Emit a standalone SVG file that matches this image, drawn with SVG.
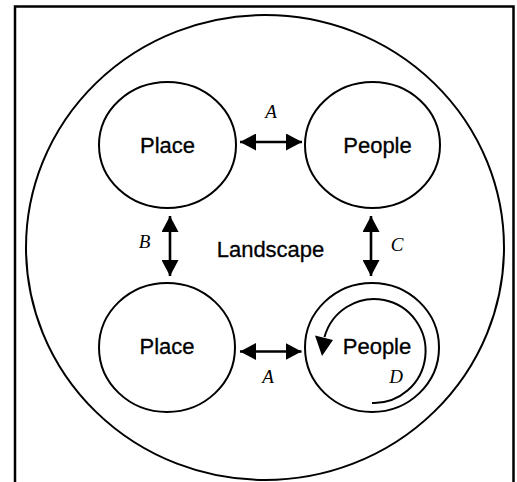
<svg xmlns="http://www.w3.org/2000/svg" width="517" height="482" viewBox="0 0 517 482">
<style>
.c{fill:none;stroke:#000;stroke-width:2}
.t{font-family:"Liberation Sans",Arial,sans-serif;font-size:22px;text-anchor:middle;fill:#000;stroke:#000;stroke-width:0.3}
.l{font-family:"Liberation Serif","Times New Roman",serif;font-style:italic;font-size:19px;text-anchor:middle;fill:#000}
.a{stroke:#000;stroke-width:2.6;fill:none;marker-start:url(#h);marker-end:url(#h)}
</style>
<defs>
<marker id="h" viewBox="0 0 16 17" refX="16" refY="8.5" markerWidth="16" markerHeight="17" markerUnits="userSpaceOnUse" orient="auto-start-reverse">
<path d="M0 0 L16 8.5 L0 17 Z" fill="#000"/>
</marker>
</defs>
<rect width="517" height="482" fill="#fff"/>
<path d="M15 484 V6.5 H513.5 V484" fill="none" stroke="#000" stroke-width="2.5"/>
<g id="landscape">
<ellipse class="c" cx="265" cy="247.5" rx="239" ry="232.5"/>
<text class="t" x="270.5" y="257">Landscape</text>
</g>
<g id="place-top">
<ellipse class="c" cx="167.5" cy="145" rx="68.5" ry="63"/>
<text class="t" x="167.5" y="153">Place</text>
</g>
<g id="people-top">
<ellipse class="c" cx="372.5" cy="145" rx="67.5" ry="63"/>
<text class="t" x="377.5" y="153">People</text>
</g>
<g id="place-bottom">
<ellipse class="c" cx="167" cy="347.5" rx="68" ry="64.5"/>
<text class="t" x="167" y="354">Place</text>
</g>
<g id="people-bottom">
<ellipse class="c" cx="372" cy="347.5" rx="67" ry="64.5"/>
<text class="t" x="377" y="354">People</text>
<path d="M372 403 A51.5 52 0 1 0 324.5 337" fill="none" stroke="#000" stroke-width="2"/>
<path d="M315 335.5 L333 340 L322 356 Z" fill="#000"/>
</g>
<g id="connectors">
<line class="a" x1="240" y1="142" x2="302" y2="142"/>
<line class="a" x1="240" y1="351.5" x2="301.5" y2="351.5"/>
<line class="a" x1="170" y1="216" x2="170" y2="276"/>
<line class="a" x1="371" y1="216" x2="371" y2="276"/>
<text class="l" x="271" y="118">A</text>
<text class="l" x="268" y="383">A</text>
<text class="l" x="144.5" y="248">B</text>
<text class="l" x="397" y="251">C</text>
<text class="l" x="396" y="383">D</text>
</g>
</svg>
